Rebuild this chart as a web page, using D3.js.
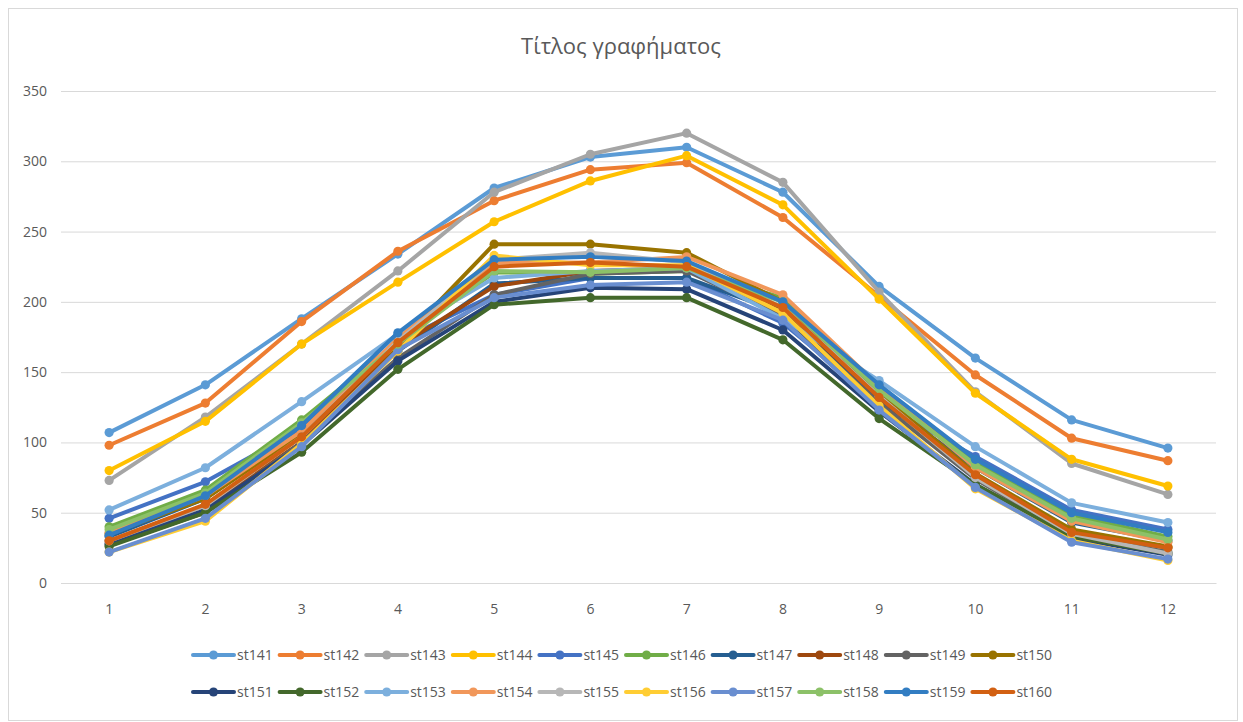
<!DOCTYPE html>
<html>
<head>
<meta charset="utf-8">
<script src="https://cdn.jsdelivr.net/npm/d3@7"></script>
<style>
  html, body { margin: 0; padding: 0; background: #fff; }
  svg { display: block; }
  text { font-family: "Open Sans", "Liberation Sans", sans-serif; fill: #595959; }
</style>
</head>
<body>
<svg id="chart" width="1243" height="722"></svg>
<script>
const title = "Τίτλος γραφήματος";
const categories = ["1","2","3","4","5","6","7","8","9","10","11","12"];
const yTicks = [0, 50, 100, 150, 200, 250, 300, 350];
const seriesNames = ["st141","st142","st143","st144","st145","st146","st147","st148","st149","st150",
                     "st151","st152","st153","st154","st155","st156","st157","st158","st159","st160"];
const seriesColors = ["#5B9BD5","#ED7D31","#A5A5A5","#FFC000","#4472C4","#70AD47","#255E91","#9E480E","#636363","#997300",
                      "#264478","#43682B","#7CAFDD","#F1975A","#B7B7B7","#FFCD33","#698ED0","#8CC168","#327DC2","#D26012"];

const st141 = [107, 141, 188, 234, 281, 303, 310, 278, 211, 160, 116, 96];
const st142 = [98, 128, 186, 236, 272, 294, 299, 260, 204, 148, 103, 87];
const st143 = [73, 118, 170, 222, 278, 305, 320, 285, 207, 136, 85, 63];
const st144 = [80, 115, 170, 214, 257, 286, 304, 269, 202, 135, 88, 69];
const st145 = [46, 72, 110, 172, 205, 217, 217, 185, 128, 90, 52, 38];
const st146 = [40, 66, 116, 172, 221, 220, 222, 203, 138, 86, 48, 33];
const st147 = [33, 60, 108, 165, 213, 217, 217, 192, 130, 82, 43, 30];
const st148 = [30, 55, 100, 168, 211, 222, 224, 195, 132, 76, 36, 25];
const st149 = [27, 50, 100, 160, 205, 220, 222, 190, 128, 74, 34, 22];
const st150 = [35, 60, 106, 170, 241, 241, 235, 200, 135, 78, 38, 26];
const st151 = [28, 52, 98, 158, 200, 210, 209, 180, 122, 70, 32, 20];
const st152 = [26, 50, 93, 152, 198, 203, 203, 173, 117, 70, 33, 21];
const st153 = [52, 82, 129, 177, 217, 222, 224, 188, 144, 97, 57, 43];
const st154 = [36, 62, 108, 174, 228, 228, 232, 205, 140, 82, 44, 29];
const st155 = [30, 55, 104, 172, 230, 235, 228, 196, 133, 75, 35, 21];
const st156 = [22, 44, 99, 165, 233, 226, 226, 192, 126, 67, 30, 16];
const st157 = [22, 46, 97, 166, 203, 212, 214, 187, 123, 68, 29, 17];
const st158 = [38, 64, 114, 170, 222, 221, 224, 200, 137, 84, 46, 31];
const st159 = [34, 62, 112, 178, 230, 232, 229, 200, 141, 88, 50, 36];
const st160 = [30, 56, 104, 171, 225, 228, 225, 196, 132, 77, 36, 25];

const seriesValues = [st141, st142, st143, st144, st145, st146, st147, st148, st149, st150,
                      st151, st152, st153, st154, st155, st156, st157, st158, st159, st160];

const svg = d3.select("#chart");

// chart border
svg.append("rect").attr("x", 8.5).attr("y", 8.5).attr("width", 1229).attr("height", 712)
  .attr("fill", "#fff").attr("stroke", "#D9D9D9").attr("stroke-width", 1);

// title
svg.append("text").attr("x", 621).attr("y", 54).attr("text-anchor", "middle")
  .style("font-size", "22px").text(title);

const plot = { left: 61, right: 1216, top: 91, bottom: 583 };
const x = d3.scaleBand().domain(categories).range([plot.left, plot.right]);
const y = d3.scaleLinear().domain([0, 350]).range([plot.bottom, plot.top]);

// gridlines + y labels
const yAxis = d3.axisLeft(y).tickValues(yTicks).tickSize(-(plot.right - plot.left)).tickPadding(14);
const gy = svg.append("g").attr("transform", `translate(${plot.left},0)`).call(yAxis);
gy.select(".domain").remove();
gy.selectAll(".tick line").attr("stroke", "#D9D9D9").attr("stroke-width", 1);
gy.selectAll(".tick text").style("font-size", "14px").style("fill", "#595959")
  .style("font-family", "'Open Sans', 'Liberation Sans', sans-serif");

// x axis
const xAxis = d3.axisBottom(x).tickSize(0).tickPadding(21);
const gx = svg.append("g").attr("transform", `translate(0,${plot.bottom})`).call(xAxis);
gx.select(".domain").attr("stroke", "#D9D9D9");
gx.selectAll(".tick text").style("font-size", "14px").style("fill", "#595959")
  .style("font-family", "'Open Sans', 'Liberation Sans', sans-serif");

// lines
const line = d3.line().x((d, i) => x(categories[i]) + x.bandwidth() / 2).y(d => y(d));
const g = svg.append("g");
seriesValues.forEach((vals, si) => {
  const col = seriesColors[si];
  const sg = g.append("g");
  sg.append("path").datum(vals).attr("d", line).attr("fill", "none")
    .attr("stroke", col).attr("stroke-width", 4)
    .attr("stroke-linejoin", "round").attr("stroke-linecap", "round");
  sg.selectAll("circle").data(vals).join("circle")
    .attr("cx", (d, i) => x(categories[i]) + x.bandwidth() / 2)
    .attr("cy", d => y(d)).attr("r", 4.6).attr("fill", col);
});

// legend
const legendStartX = 193, legendStep = 86.6, legendRows = [655, 692];
seriesNames.forEach((name, i) => {
  const row = Math.floor(i / 10), col = i % 10;
  const lx = legendStartX + col * legendStep, ly = legendRows[row];
  const lg = svg.append("g").attr("transform", `translate(${lx},${ly})`);
  lg.append("line").attr("x1", 0).attr("x2", 41).attr("y1", 0).attr("y2", 0)
    .attr("stroke", seriesColors[i]).attr("stroke-width", 4).attr("stroke-linecap", "round");
  lg.append("circle").attr("cx", 20.5).attr("cy", 0).attr("r", 4.6).attr("fill", seriesColors[i]);
  lg.append("text").attr("x", 44).attr("y", 5).style("font-size", "14px").text(name);
});
</script>
</body>
</html>
